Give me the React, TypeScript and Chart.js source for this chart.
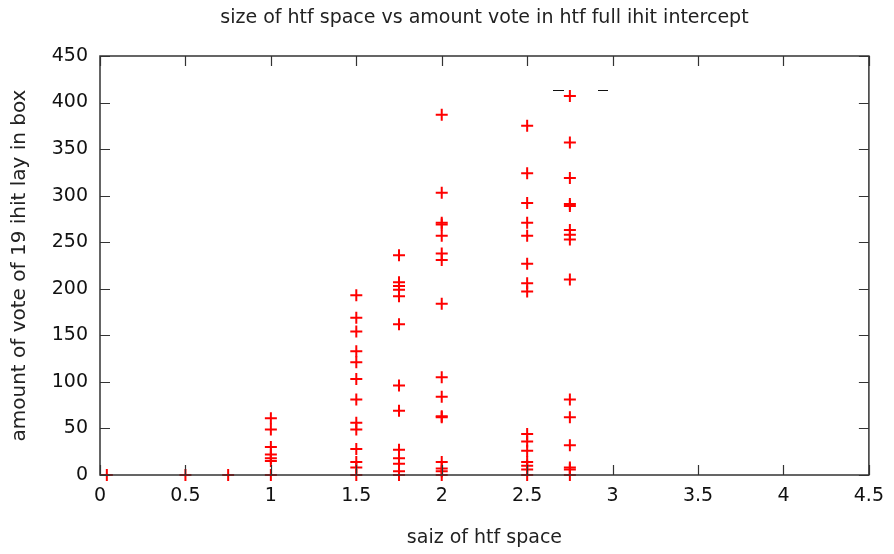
import React, { useEffect, useRef } from "react";
import { Chart, registerables } from "chart.js";

Chart.register(...registerables);

const TITLE = "size of htf space vs amount vote in htf full ihit intercept";
const X_TITLE = "saiz of htf space";
const Y_TITLE = "amount of vote of 19 ihit lay in box";

const spaceSizes = [0.04, 0.5, 0.75, 1, 1.5, 1.75, 2, 2.5, 2.75];
const votesAt004 = [0];
const votesAt050 = [0];
const votesAt075 = [0];
const votesAt100 = [61, 49, 30, 22, 18, 15, 0];
const votesAt150 = [193, 169, 154, 133, 121, 103, 81, 56, 49, 28, 14, 8, 0];
const votesAt175 = [236, 207, 203, 199, 192, 162, 96, 69, 27, 18, 12, 4, 0];
const votesAt200 = [387, 303, 271, 269, 257, 238, 231, 184, 105, 84, 63, 62, 14, 7, 4, 0];
const votesAt250 = [375, 324, 292, 271, 257, 227, 206, 197, 44, 36, 26, 14, 10, 6, 0];
const votesAt275 = [407, 357, 319, 291, 289, 263, 258, 253, 210, 81, 62, 32, 8, 6, 0];
const voteGroups = [votesAt004, votesAt050, votesAt075, votesAt100, votesAt150, votesAt175, votesAt200, votesAt250, votesAt275];

const xTicks = [0, 0.5, 1, 1.5, 2, 2.5, 3, 3.5, 4, 4.5];
const yTicks = [0, 50, 100, 150, 200, 250, 300, 350, 400, 450];

const FONT = "'DejaVu Sans', sans-serif";

export default function App() {
  const ref = useRef<HTMLCanvasElement | null>(null);

  useEffect(() => {
    document.body.style.margin = "0";
    const points: { x: number; y: number }[] = [];
    spaceSizes.forEach((s, i) => voteGroups[i].forEach((v) => points.push({ x: s, y: v })));

    const frame = {
      id: "gnuFrame",
      afterDatasetsDraw(chart: any) {
        const { ctx, chartArea: a, scales } = chart;
        const len = 10;
        ctx.save();
        // title centred over the plot area
        ctx.fillStyle = "#222";
        ctx.font = `19px ${FONT}`;
        ctx.textAlign = "center";
        ctx.textBaseline = "middle";
        ctx.fillText(TITLE, (a.left + a.right) / 2, 18);

        ctx.strokeStyle = "#333";
        ctx.lineWidth = 1.2;
        ctx.beginPath();
        xTicks.forEach((t) => {
          const px = Math.round(scales.x.getPixelForValue(t)) + 0.5;
          ctx.moveTo(px, a.bottom);
          ctx.lineTo(px, a.bottom - len);
          ctx.moveTo(px, a.top);
          ctx.lineTo(px, a.top + len);
        });
        yTicks.forEach((t) => {
          const py = Math.round(scales.y.getPixelForValue(t)) + 0.5;
          ctx.moveTo(a.left, py);
          ctx.lineTo(a.left + len, py);
          ctx.moveTo(a.right, py);
          ctx.lineTo(a.right - len, py);
        });
        ctx.stroke();
        ctx.lineWidth = 1.5;
        ctx.strokeRect(a.left, a.top, a.right - a.left, a.bottom - a.top);
        // stray key sample marks near top
        ctx.lineWidth = 1.2;
        ctx.strokeStyle = "#111";
        ctx.beginPath();
        ctx.moveTo(a.left + 453, a.top + 34.5);
        ctx.lineTo(a.left + 464, a.top + 34.5);
        ctx.moveTo(a.left + 498, a.top + 34.5);
        ctx.lineTo(a.left + 508, a.top + 34.5);
        ctx.stroke();
        ctx.restore();
      },
    };

    const chart = new Chart(ref.current!, {
      type: "scatter",
      data: {
        datasets: [
          {
            data: points,
            pointStyle: "cross",
            pointRadius: 6,
            pointBorderWidth: 2,
            borderColor: "#ff0000",
            backgroundColor: "#ff0000",
            clip: false,
          },
        ],
      },
      options: {
        responsive: false,
        animation: false,
        layout: { padding: { left: 0, right: 22, top: 56, bottom: 0 } },
        plugins: {
          legend: { display: false },
          tooltip: { enabled: false },
          title: { display: false },
        },
        scales: {
          x: {
            type: "linear",
            min: 0,
            max: 4.5,
            afterBuildTicks: (s: any) => {
              s.ticks = xTicks.map((v) => ({ value: v }));
            },
            afterFit: (s: any) => {
              s.height = 79;
            },
            grid: { display: false, drawTicks: false },
            border: { display: false },
            ticks: {
              color: "#111",
              font: { family: FONT, size: 19 },
              padding: 10,
              maxRotation: 0,
              autoSkip: false,
              callback: (v: any) => String(v),
            },
            title: {
              display: true,
              text: X_TITLE,
              color: "#222",
              font: { family: FONT, size: 19 },
              padding: { top: 0, bottom: 5 },
            },
          },
          y: {
            type: "linear",
            min: 0,
            max: 450,
            afterBuildTicks: (s: any) => {
              s.ticks = yTicks.map((v) => ({ value: v }));
            },
            afterFit: (s: any) => {
              s.width = 100;
            },
            grid: { display: false, drawTicks: false },
            border: { display: false },
            ticks: {
              color: "#111",
              font: { family: FONT, size: 19 },
              padding: 12,
              autoSkip: false,
              callback: (v: any) => String(v),
            },
            title: {
              display: true,
              text: Y_TITLE,
              color: "#222",
              font: { family: FONT, size: 20 },
              padding: { top: 8, bottom: 0 },
            },
          },
        },
      },
      plugins: [frame],
    } as any);
    return () => chart.destroy();
  }, []);

  return <canvas ref={ref} width={894} height={554} style={{ display: "block" }} />;
}
